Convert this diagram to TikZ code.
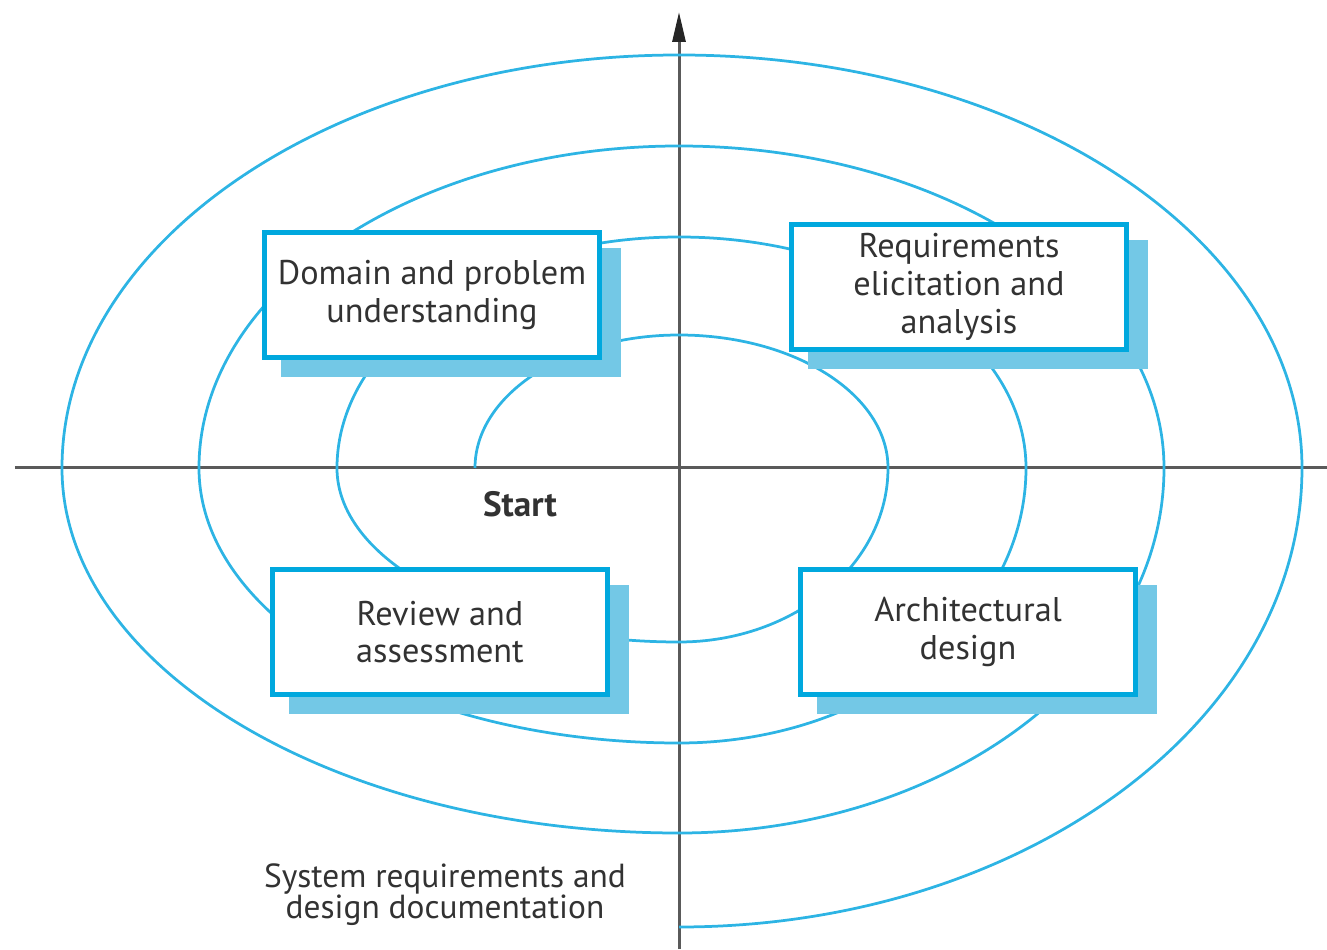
\documentclass[tikz,border=0pt]{standalone}
\usepackage{fontspec}
\setmainfont{PT Sans}
\usetikzlibrary{arrows.meta,shadows}

\definecolor{spiralblue}{RGB}{45,180,228}
\definecolor{boxblue}{RGB}{0,168,222}
\definecolor{shadowblue}{RGB}{115,200,230}
\definecolor{axisgray}{RGB}{90,90,90}
\definecolor{textgray}{RGB}{50,50,50}

\tikzset{
  phase/.style={draw=boxblue, line width=0.1cm, fill=white,
    minimum width=6.7cm, minimum height=2.5cm, align=center,
    text=textgray, font=\fontsize{19.5}{21.5}\selectfont,
    drop shadow={fill=shadowblue, draw=shadowblue, opacity=1,
      shadow xshift=0.38cm, shadow yshift=-0.35cm}},
  turn/.style={draw=spiralblue, line width=0.055cm},
  axis/.style={draw=axisgray, line width=0.06cm},
  plain/.style={text=textgray, align=center, font=\fontsize{19}{17.5}\selectfont},
}

\begin{document}
\begin{tikzpicture}[x=0.02cm, y=0.02cm]
    \useasboundingbox (-679,-481) rectangle (648,468);

    % axes
    \coordinate (west) at (-664,0);
    \coordinate (east) at (648,0);
    \coordinate (south) at (0,-481);
    \coordinate (north) at (0,456);
    \draw[axis] (west) -- (east);
    \draw[axis, -{Triangle[length=0.6cm, width=0.26cm, black!85]}] (south) -- (north);

    % the spiral, one quarter after the other
    \draw[turn] (-204,0)
      arc[start angle=180, end angle=90, x radius=204, y radius=133]
      arc[start angle=90, end angle=0, x radius=209, y radius=133]
      arc[start angle=0, end angle=-90, x radius=209, y radius=174]
      arc[start angle=-90, end angle=-180, x radius=342, y radius=174]
      arc[start angle=180, end angle=90, x radius=342, y radius=231]
      arc[start angle=90, end angle=0, x radius=347, y radius=231]
      arc[start angle=0, end angle=-90, x radius=347, y radius=275]
      arc[start angle=-90, end angle=-180, x radius=480, y radius=275]
      arc[start angle=180, end angle=90, x radius=480, y radius=322]
      arc[start angle=90, end angle=0, x radius=485, y radius=322]
      arc[start angle=0, end angle=-90, x radius=485, y radius=365]
      arc[start angle=-90, end angle=-180, x radius=617, y radius=365]
      arc[start angle=180, end angle=90, x radius=617, y radius=413]
      arc[start angle=90, end angle=0, x radius=623, y radius=413]
      arc[start angle=0, end angle=-90, x radius=623, y radius=459];

    % activities
    \node[phase] (domain) at (-247,173) {Domain and problem\\understanding};
    \node[phase] (reqs) at (280,181) {Requirements\\elicitation and\\analysis};
    \node[phase] (review) at (-239,-164) {Review and\\assessment};
    \node[phase] (archi) at (289,-164) {Architectural\\design};

    \node[plain, font=\fontsize{20}{22}\selectfont\bfseries] (start) at (-159,-36) {Start};
    \node[plain] (docs) at (-234,-427) {System requirements and\\design documentation};
\end{tikzpicture}
\end{document}
